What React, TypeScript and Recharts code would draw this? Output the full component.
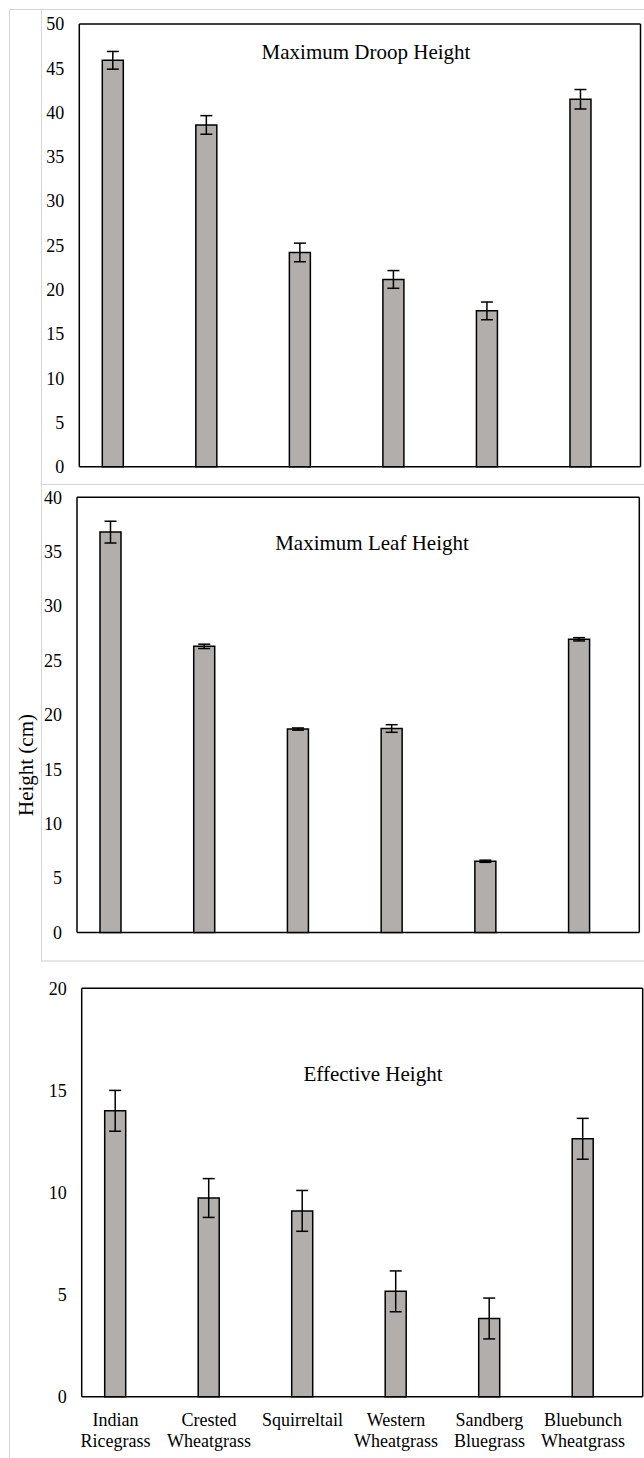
import React from 'react';
import { BarChart, Bar, XAxis, YAxis, ErrorBar, CartesianGrid } from 'recharts';

const categories = [
  'Indian\nRicegrass',
  'Crested\nWheatgrass',
  'Squirreltail',
  'Western\nWheatgrass',
  'Sandberg\nBluegrass',
  'Bluebunch\nWheatgrass',
];

const droopHeight = [45.9, 38.6, 24.2, 21.15, 17.6, 41.5];
const droopError = [1.0, 1.05, 1.05, 1.0, 1.0, 1.1];

const leafHeight = [36.8, 26.3, 18.7, 18.75, 6.55, 26.95];
const leafError = [1.0, 0.2, 0.1, 0.35, 0.1, 0.15];

const effectiveHeight = [14.0, 9.73, 9.1, 5.16, 3.83, 12.63];
const effectiveError = [1.0, 0.95, 1.0, 1.0, 1.0, 1.0];

const droopTicks = [0, 5, 10, 15, 20, 25, 30, 35, 40, 45, 50];
const leafTicks = [0, 5, 10, 15, 20, 25, 30, 35, 40];
const effectiveTicks = [0, 5, 10, 15, 20];

const titles = ['Maximum Droop Height', 'Maximum Leaf Height', 'Effective Height'];
const yAxisTitle = 'Height (cm)';

const FONT = '"Liberation Serif", "Times New Roman", serif';
const BAR_FILL = '#b1aeac';
const FRAME = '#d6d6d6';

const build = (values: number[], errors: number[]) =>
  categories.map((c, i) => ({ name: c, value: values[i], err: errors[i] }));

const CategoryTick = (props: any) => {
  const { x, y, payload } = props;
  const lines = String(payload.value).split('\n');
  return (
    <text x={x} y={y} textAnchor="middle" fontFamily={FONT} fontSize={18} fill="#000">
      {lines.map((l: string, i: number) => (
        <tspan key={i} x={x} dy={i === 0 ? 29 : 21}>
          {l}
        </tspan>
      ))}
    </text>
  );
};

type Margin = { top: number; right: number; bottom: number; left: number };

type PanelProps = {
  top: number;
  height: number;
  margin: Margin;
  yWidth: number;
  xHeight: number;
  values: number[];
  errors: number[];
  ticks: number[];
  showCategories: boolean;
};

const Panel = (p: PanelProps) => {
  const data = build(p.values, p.errors);
  const max = p.ticks[p.ticks.length - 1];
  const plotLeft = p.margin.left + p.yWidth;
  const plotTop = p.margin.top;
  const plotW = 644 - plotLeft - p.margin.right;
  const plotH = p.height - p.margin.top - p.margin.bottom - p.xHeight;
  const hGen = (args: any) => {
    const o = args && args.offset;
    if (o && typeof o.top === 'number') return [o.top, o.top + o.height];
    return [plotTop, plotTop + plotH];
  };
  const vGen = (args: any) => {
    const o = args && args.offset;
    if (o && typeof o.left === 'number') return [o.left, o.left + o.width];
    return [plotLeft, plotLeft + plotW];
  };
  return (
    <div style={{ position: 'absolute', left: 0, top: p.top, width: 644, height: p.height }}>
      <BarChart width={644} height={p.height} data={data} margin={p.margin} barSize={21}>
        <CartesianGrid
          stroke="#000"
          strokeWidth={1.5}
          strokeDasharray=""
          horizontalCoordinatesGenerator={hGen}
          verticalCoordinatesGenerator={vGen}
        />
        <XAxis
          dataKey="name"
          type="category"
          padding={{ left: -13, right: 13 }}
          height={p.xHeight}
          axisLine={false}
          tickLine={false}
          tickSize={0}
          tickMargin={0}
          interval={0}
          tick={p.showCategories ? <CategoryTick /> : false}
        />
        <YAxis
          domain={[0, max]}
          ticks={p.ticks}
          width={p.yWidth}
          axisLine={false}
          tickLine={false}
          tickSize={0}
          tickMargin={15}
          interval={0}
          tick={{ fontFamily: FONT, fontSize: 18, fill: '#000' }}
        />
        <Bar dataKey="value" fill={BAR_FILL} stroke="#000" strokeWidth={1.5} isAnimationActive={false}>
          <ErrorBar dataKey="err" direction="y" width={6} stroke="#000" strokeWidth={1.5} />
        </Bar>
      </BarChart>
    </div>
  );
};

const titleStyle = (cx: number, cy: number): React.CSSProperties => ({
  position: 'absolute',
  left: cx - 200,
  top: cy - 14,
  width: 400,
  height: 28,
  lineHeight: '28px',
  textAlign: 'center',
  fontFamily: FONT,
  fontSize: 21,
  color: '#000',
  whiteSpace: 'nowrap',
});

export default function App() {
  return (
    <div
      style={{
        position: 'absolute',
        left: 0,
        top: 0,
        width: 644,
        height: 1458,
        background: '#fff',
        overflow: 'hidden',
        fontFamily: FONT,
      }}
    >
      <div style={{ position: 'absolute', left: 9, top: 9, width: 700, height: 1500, borderLeft: `1px solid ${FRAME}`, borderTop: `1px solid ${FRAME}` }} />
      <div style={{ position: 'absolute', left: 41, top: 9, width: 700, height: 951, borderLeft: `1px solid ${FRAME}`, borderBottom: `2px solid #e6e6e6` }} />
      <div style={{ position: 'absolute', left: 41, top: 484, width: 700, height: 0, borderTop: `1px solid ${FRAME}` }} />

      <Panel
        top={0}
        height={484}
        margin={{ top: 24, right: 3.5, bottom: 17.3, left: 0 }}
        yWidth={79.3}
        xHeight={0}
        values={droopHeight}
        errors={droopError}
        ticks={droopTicks}
        showCategories={false}
      />
      <Panel
        top={484}
        height={476}
        margin={{ top: 13.3, right: 4.7, bottom: 27.5, left: 0 }}
        yWidth={77}
        xHeight={0}
        values={leafHeight}
        errors={leafError}
        ticks={leafTicks}
        showCategories={false}
      />
      <Panel
        top={960}
        height={498}
        margin={{ top: 28.3, right: 1.3, bottom: 0, left: 0 }}
        yWidth={81.7}
        xHeight={61.3}
        values={effectiveHeight}
        errors={effectiveError}
        ticks={effectiveTicks}
        showCategories={true}
      />

      <div style={titleStyle(366, 51.7)}>{titles[0]}</div>
      <div style={titleStyle(372, 543)}>{titles[1]}</div>
      <div style={titleStyle(373, 1074)}>{titles[2]}</div>

      <div
        style={{
          position: 'absolute',
          left: 26 - 100,
          top: 765 - 14,
          width: 200,
          height: 28,
          lineHeight: '28px',
          textAlign: 'center',
          fontFamily: FONT,
          fontSize: 21,
          color: '#000',
          transform: 'rotate(-90deg)',
          whiteSpace: 'nowrap',
        }}
      >
        {yAxisTitle}
      </div>
    </div>
  );
}
